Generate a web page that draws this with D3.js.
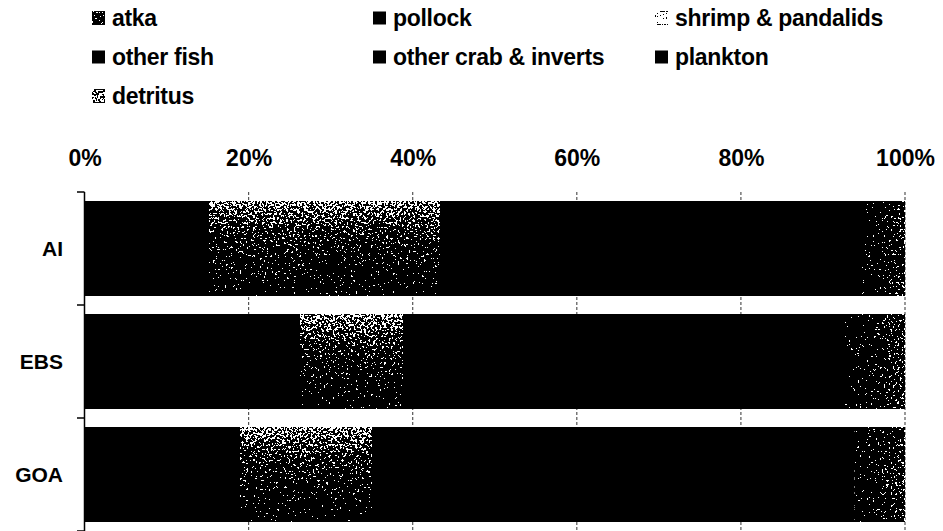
<!DOCTYPE html>
<html>
<head>
<meta charset="utf-8">
<script src="https://cdn.jsdelivr.net/npm/d3@7"></script>
<style>
  body { margin: 0; background: #fff; }
  svg { display: block; }
  text { font-family: "Liberation Sans", Arial, sans-serif; font-weight: bold; fill: #000; }
</style>
</head>
<body>
<svg id="chart" width="943" height="531"></svg>
<script>
// Diet composition by region (percent of total)
const regions = ["AI", "EBS", "GOA"];
const seriesNames = ["atka", "pollock", "shrimp & pandalids", "other fish",
                     "other crab & inverts", "plankton", "detritus"];
const atka      = [9.0, 4.0, 3.0];
const pollock   = [6.2, 22.3, 16.0];
const shrimp    = [28.1, 12.5, 16.0];
const otherFish = [12.6, 15.0, 18.0];
const otherCrab = [16.0, 20.0, 17.0];
const plankton  = [22.9, 18.9, 23.9];
const detritus  = [5.2, 7.3, 6.1];
const tickValues = [0, 0.2, 0.4, 0.6, 0.8, 1];

const seriesValues = [atka, pollock, shrimp, otherFish, otherCrab, plankton, detritus];
const rows = regions.map((r, i) => {
  const row = { region: r };
  seriesNames.forEach((s, k) => { row[s] = seriesValues[k][i]; });
  return row;
});

const svg = d3.select("#chart");
const W = 943, H = 531;

// Grain filter: turns a grey level into clumpy black/white speckle
const defs = svg.append("defs");
const f = defs.append("filter").attr("id", "dither")
  .attr("x", 0).attr("y", 0).attr("width", "100%").attr("height", "100%")
  .attr("color-interpolation-filters", "sRGB");
f.append("feTurbulence").attr("type", "fractalNoise").attr("baseFrequency", 0.45)
  .attr("numOctaves", 2).attr("seed", 7).attr("result", "n");
f.append("feColorMatrix").attr("in", "n").attr("type", "matrix")
  .attr("values", "1.9 0 0 0 -0.45  1.9 0 0 0 -0.45  1.9 0 0 0 -0.45  0 0 0 0 1")
  .attr("result", "g");
f.append("feComposite").attr("in", "SourceGraphic").attr("in2", "g")
  .attr("operator", "arithmetic").attr("k1", 0).attr("k2", 1).attr("k3", 1).attr("k4", -0.52)
  .attr("result", "s");
const ct = f.append("feComponentTransfer").attr("in", "s");
["feFuncR", "feFuncG", "feFuncB"].forEach(t => ct.append(t).attr("type", "discrete").attr("tableValues", "0 1"));

const shrimpGrad = defs.append("linearGradient").attr("id", "shrimpGrad")
  .attr("x1", 0).attr("y1", 0).attr("x2", 0).attr("y2", 1);
[[0, "#8a8a8a"], [0.3, "#4a4a4a"], [0.6, "#2c2c2c"], [1, "#141414"]]
  .forEach(([o, c]) => shrimpGrad.append("stop").attr("offset", o).attr("stop-color", c));

const detGrad = defs.append("linearGradient").attr("id", "detGrad")
  .attr("x1", 0).attr("y1", 0).attr("x2", 1).attr("y2", 0);
[[0, "#141414"], [0.5, "#2a2a2a"], [1, "#4a4a4a"]]
  .forEach(([o, c]) => detGrad.append("stop").attr("offset", o).attr("stop-color", c));

const barFill = {
  "atka": "#000", "pollock": "#000", "shrimp & pandalids": "url(#shrimpGrad)",
  "other fish": "#000", "other crab & inverts": "#000", "plankton": "#000",
  "detritus": "url(#detGrad)"
};
const keyFill = {
  "atka": "#383838", "pollock": "#000", "shrimp & pandalids": "#d8d8d8",
  "other fish": "#000", "other crab & inverts": "#000", "plankton": "#000",
  "detritus": "#8a8a8a"
};
const grainy = c => c !== "#000";

// Scales
const x = d3.scaleLinear().domain([0, 1]).range([84.5, 905]);
const y = d3.scaleBand().domain(regions).range([192, 531])
  .paddingInner(0.16).paddingOuter(0.08);

// Vertical dashed gridlines
svg.append("g").selectAll("line").data(tickValues.filter(d => d > 0)).join("line")
  .attr("x1", d => x(d)).attr("x2", d => x(d))
  .attr("y1", 192).attr("y2", H)
  .attr("stroke", "#555").attr("stroke-width", 1.2).attr("stroke-dasharray", "3,2");

// Stacked bars (100%)
const stack = d3.stack().keys(seriesNames).offset(d3.stackOffsetExpand);
const layers = stack(rows);
svg.append("g").selectAll("g").data(layers).join("g")
  .selectAll("rect").data(d => d.map(p => Object.assign(p, { key: d.key }))).join("rect")
  .attr("x", d => x(d[0]))
  .attr("width", d => x(d[1]) - x(d[0]))
  .attr("y", d => y(d.data.region))
  .attr("height", y.bandwidth())
  .attr("shape-rendering", "crispEdges")
  .attr("fill", d => barFill[d.key])
  .attr("filter", d => grainy(barFill[d.key]) ? "url(#dither)" : null);

// Top axis labels
const xAxis = d3.axisTop(x).tickValues(tickValues)
  .tickFormat(d3.format(".0%")).tickSize(0).tickPadding(0);
const gx = svg.append("g").attr("transform", "translate(0,166)").call(xAxis);
gx.select(".domain").remove();
gx.selectAll("text").attr("font-size", 23).attr("font-family", null).attr("fill", "#000");

// Left axis line with tick marks between categories
const yAxis = svg.append("g");
yAxis.append("line").attr("x1", 84.5).attr("x2", 84.5).attr("y1", 192).attr("y2", H)
  .attr("stroke", "#000").attr("stroke-width", 1.5);
const bounds = d3.range(regions.length + 1).map(i => y.range()[0] + i * y.step());
yAxis.selectAll("line.tick").data(bounds).join("line").attr("class", "tick")
  .attr("x1", 77).attr("x2", 84.5).attr("y1", d => d).attr("y2", d => d)
  .attr("stroke", "#000").attr("stroke-width", 1.5);
yAxis.selectAll("text").data(regions).join("text")
  .attr("x", 63).attr("y", d => y(d) + y.bandwidth() / 2)
  .attr("text-anchor", "end").attr("dominant-baseline", "central")
  .attr("font-size", 21).text(d => d);

// Legend in three columns
const colX = [92, 373, 655], rowY = [18, 57, 96];
const leg = svg.append("g").selectAll("g").data(seriesNames).join("g")
  .attr("transform", (d, i) => `translate(${colX[i % 3]},${rowY[Math.floor(i / 3)]})`);
leg.append("rect").attr("x", 0).attr("y", -6.5).attr("width", 13).attr("height", 13)
  .attr("fill", d => keyFill[d])
  .attr("filter", d => grainy(keyFill[d]) ? "url(#dither)" : null);
leg.append("text").attr("x", 20).attr("y", 0).attr("dominant-baseline", "central")
  .attr("font-size", 23).attr("letter-spacing", -0.3).text(d => d);
</script>
</body>
</html>
